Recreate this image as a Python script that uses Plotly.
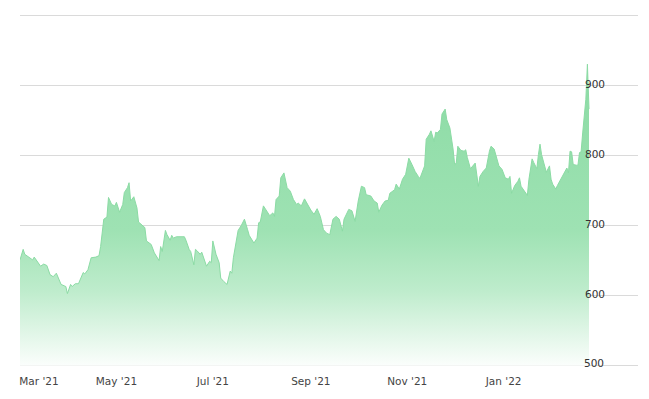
import pandas as pd
import plotly.graph_objects as go

# Days since 2021-03-01 and price values
start_date = "2021-03-01"
day_offsets = [0, 2, 3, 6, 8, 9, 11, 13, 15, 17, 19, 21, 23, 26, 28, 29, 30, 32, 33, 35,
               37, 40, 41, 43, 45, 48, 50, 51, 53, 55, 56, 58, 60, 61, 63, 65, 66, 68, 69, 70,
               72, 74, 75, 77, 79, 80, 83, 85, 88, 89, 90, 92, 93, 95, 96, 97, 99, 104, 105, 107,
               108, 110, 111, 112, 114, 115, 117, 118, 120, 121, 122, 124, 126, 127, 129, 131, 133, 134, 135, 138,
               140, 142, 144, 145, 148, 150, 151, 152, 154, 156, 158, 160, 161, 162, 164, 165, 167, 169, 171, 173,
               175, 176, 178, 180, 182, 184, 186, 188, 190, 192, 194, 196, 198, 200, 202, 204, 205, 208, 210, 212,
               214, 216, 218, 219, 222, 224, 226, 227, 229, 231, 233, 234, 237, 238, 240, 242, 244, 246, 248, 250,
               252, 253, 256, 257, 259, 260, 262, 263, 264, 266, 267, 269, 270, 272, 274, 275, 276, 277, 279, 281,
               282, 283, 285, 287, 288, 290, 291, 293, 295, 297, 298, 300, 302, 303, 305, 307, 309, 310, 311, 313,
               315, 316, 317, 319, 321, 322, 324, 325, 327, 328, 329, 330, 332, 333, 335, 336, 337, 339, 340, 342,
               344, 346, 347, 348, 349, 350, 352, 353, 354, 355, 356, 358, 359, 360]
prices = [651, 666, 659, 654, 651, 655, 649, 642, 645, 643, 630, 627, 632, 616, 614, 613, 603, 616, 613, 617,
          617, 633, 631, 637, 654, 655, 657, 670, 709, 712, 740, 730, 728, 733, 719, 730, 747, 754, 761, 735,
          741, 725, 705, 701, 697, 678, 673, 661, 650, 670, 663, 693, 687, 679, 686, 682, 684, 684, 679, 666,
          663, 644, 666, 664, 659, 662, 649, 642, 649, 647, 678, 659, 647, 625, 620, 616, 635, 632, 654, 693,
          700, 709, 694, 686, 675, 682, 704, 705, 728, 721, 714, 718, 713, 737, 742, 768, 775, 754, 749, 737,
          730, 732, 728, 738, 729, 722, 716, 724, 713, 694, 689, 687, 709, 713, 709, 692, 709, 723, 721, 706,
          735, 756, 754, 744, 742, 735, 732, 719, 729, 735, 736, 746, 751, 759, 752, 766, 773, 796, 787, 777,
          770, 767, 785, 823, 830, 835, 820, 833, 832, 837, 859, 866, 851, 839, 809, 787, 789, 813, 807, 806,
          808, 797, 781, 787, 789, 756, 770, 777, 782, 806, 813, 809, 792, 785, 780, 768, 766, 770, 746, 757,
          763, 768, 756, 749, 743, 766, 795, 790, 781, 801, 816, 801, 785, 776, 785, 766, 759, 752, 757, 766,
          774, 782, 775, 806, 805, 787, 786, 786, 804, 805, 832, 880, 930, 866]
baseline_value = 500

tick_dates = ["2021-03-13", "2021-05-01", "2021-07-01", "2021-09-01", "2021-11-01", "2022-01-01"]
tick_labels = ["Mar '21", "May '21", "Jul '21", "Sep '21", "Nov '21", "Jan '22"]
y_ticks = [500, 600, 700, 800, 900, 1000]
y_tick_labels = ["500", "600", "700", "800", "900", ""]

dates = pd.to_datetime(start_date) + pd.to_timedelta(day_offsets, unit="D")

fig = go.Figure()
fig.add_trace(go.Scatter(
    x=dates, y=[baseline_value] * len(dates), mode="lines",
    line=dict(width=0, color="rgba(0,0,0,0)"), hoverinfo="skip",
))
fig.add_trace(go.Scatter(
    x=dates, y=prices, mode="lines",
    line=dict(color="rgb(139,219,164)", width=1),
    fill="tonexty",
    fillgradient=dict(
        type="vertical", start=500, stop=930,
        colorscale=[[0, "rgb(251,254,252)"], [0.12, "rgb(222,245,229)"],
                    [0.25, "rgb(190,236,204)"], [0.45, "rgb(158,226,179)"],
                    [1, "rgb(139,219,164)"]],
    ),
    hoverinfo="skip",
))

# The lowest y label sits at the plot edge, where Plotly hides inside labels;
# draw it as text anchored to the 500 value.
fig.add_annotation(
    x=1, xref="paper", xanchor="right", xshift=-32,
    y=y_ticks[0], yref="y", yanchor="middle", yshift=3,
    text=y_tick_labels[0], showarrow=False,
    font=dict(family="DejaVu Sans", size=10.5, color="#333333"),
)

fig.update_layout(
    width=641, height=391,
    margin=dict(l=12, r=11, t=5, b=29, autoexpand=False),
    paper_bgcolor="white", plot_bgcolor="white",
    showlegend=False,
    font=dict(family="DejaVu Sans", size=11, color="#333333"),
    xaxis=dict(
        type="date",
        range=["2021-03-01", "2022-03-27"],
        tickvals=tick_dates, ticktext=tick_labels,
        showgrid=False, zeroline=False, showline=False, ticks="",
        ticklabelstandoff=3,
        tickfont=dict(size=10.5, color="#444444"),
    ),
    yaxis=dict(
        range=[494, 1003], side="right",
        tickvals=y_ticks, ticktext=y_tick_labels,
        ticklabelposition="inside", ticklabelstandoff=30, ticklabelshift=-1,
        showgrid=True, gridcolor="#dadada", gridwidth=1,
        zeroline=False, showline=False, ticks="",
        tickfont=dict(size=10.5, color="#333333"),
    ),
)

fig.write_html("out.html")
